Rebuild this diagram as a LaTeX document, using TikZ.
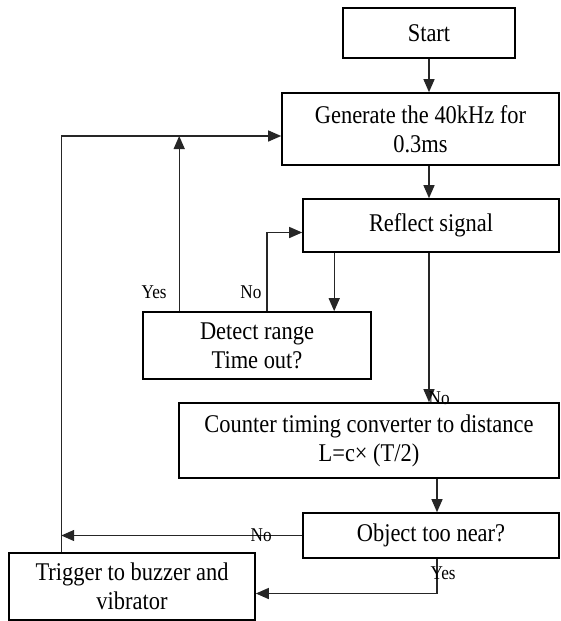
\documentclass[tikz,border=0pt]{standalone}
\usepackage{fontspec}
\setmainfont[FakeStretch=0.88]{Liberation Serif}
\usetikzlibrary{arrows.meta}

\tikzset{
  block/.style={draw, line width=1.6pt, align=center, inner sep=0pt, font=\fontsize{25.5}{29}\selectfont},
  flow/.style={line width=1.3pt, draw=black!85, -{Triangle[length=13pt,width=11pt]}},
  tag/.style={inner sep=0pt, font=\fontsize{19.5}{22}\selectfont},
}

\begin{document}
\begin{tikzpicture}[x=1pt, y=-1pt]
\useasboundingbox (0,0) rectangle (560,621);
% boxes
\node[block, minimum width=172pt, minimum height=50pt] (start) at (429,33) {Start};
\node[block, minimum width=277pt, minimum height=72pt] (gen) at (420.5,129) {Generate the 40kHz for\\0.3ms};
\node[block, minimum width=256pt, minimum height=53pt] (refl) at (431,225.5) {Reflect signal};
\node[block, minimum width=228pt, minimum height=67pt] (det) at (257,345.5) {Detect range\\Time out?};
\node[block, minimum width=380pt, minimum height=75pt] (cnt) at (369,440.5) {Counter timing converter to distance\\L=c× (T/2)};
\node[block, minimum width=256pt, minimum height=45pt] (obj) at (431,535.5) {Object too near?};
\node[block, minimum width=246pt, minimum height=67pt] (trig) at (132,586.5) {Trigger to buzzer and\\vibrator};

\coordinate (rd) at ([xshift=32pt]refl.south west);
\coordinate (dn) at ([xshift=10pt]det.north);
\coordinate (dy) at ([xshift=37pt]det.north west);
\coordinate (up) at ([xshift=53pt]trig.north west);
\coordinate (gin) at ([yshift=-7pt]gen.west);
\coordinate (ct) at ([xshift=6pt]obj.north);
\coordinate (cb) at ([xshift=6pt]obj.south);

% arrows
\draw[flow] (start) -- (start |- gen.north);
\draw[flow] (start |- gen.south) -- (start |- refl.north);
\draw[flow] (rd) -- (rd |- det.north);
\draw[flow] (dn) |- ([yshift=-7pt]refl.west) node[tag, pos=0.12, left=5pt] (no1) {No};
\draw[flow] (up) |- (gin);
\draw[flow] (dy) -- (dy |- gin) node[tag, pos=0.11, left=12pt] (yes1) {Yes};
\draw[flow] (start |- refl.south) -- (start |- cnt.north) node[tag, pos=0.97, right=-1pt] (no2) {No};
\draw[flow] (ct |- cnt.south) -- (ct);
\draw[flow] (cb) |- ([yshift=-7pt]trig.east) node[tag, pos=0.21, right=-7pt] (yes2) {Yes};
\draw[flow] (obj.west) -- (obj.west -| up) node[tag, pos=0.17] (no3) {No};
\end{tikzpicture}
\end{document}
